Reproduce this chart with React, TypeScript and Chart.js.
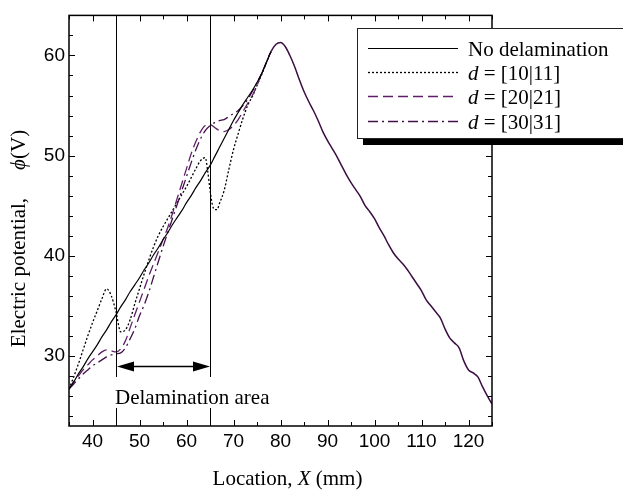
import React, { useEffect, useRef } from "react";
import { Chart, registerables } from "chart.js";

Chart.register(...registerables);

// ---------- data ----------
const xLeft = [
  35, 36, 37, 38, 39, 40, 41, 42, 43, 44, 45, 46, 47, 48, 49, 50, 51, 52, 53, 54, 55, 56, 57,
  58, 59, 60, 61, 62, 63, 64, 65, 66, 67, 68, 69, 70, 71, 72, 73, 74, 75, 76, 77, 78, 79, 80,
];
const noDelamLeft = [
  26.7, 27.4, 28.2, 28.9, 29.7, 30.4, 31.1, 31.9, 32.6, 33.4, 34.1, 34.9, 35.6, 36.4, 37.1,
  37.8, 38.6, 39.3, 40.1, 40.8, 41.6, 42.3, 43.1, 43.8, 44.5, 45.3, 46.0, 46.8, 47.5, 48.3,
  49.0, 49.9, 50.8, 51.7, 52.6, 53.5, 54.3, 55.1, 55.8, 56.5, 57.3, 58.2, 59.3, 60.4, 61.1, 61.3,
];
const d20Left = [
  26.7, 27.4, 28.0, 28.6, 29.1, 29.6, 30.0, 30.4, 30.6, 30.5, 30.4, 30.7, 31.5, 32.8, 34.1,
  35.4, 36.7, 38.0, 39.2, 40.4, 41.6, 42.8, 44.2, 45.7, 47.2, 48.7, 50.2, 51.4, 52.4, 53.0,
  53.1, 52.8, 52.5, 52.4, 52.6, 53.0, 53.6, 54.4, 55.2, 56.0, 57.0, 58.2, 59.3, 60.4, 61.1, 61.3,
];
const d30Left = [
  26.7, 27.2, 27.7, 28.2, 28.6, 29.0, 29.3, 29.6, 29.9, 30.1, 30.2, 30.3, 30.8, 31.7, 32.7,
  34.0, 35.1, 36.4, 37.9, 39.4, 40.9, 42.3, 43.7, 45.1, 46.5, 47.9, 49.3, 50.6, 51.7, 52.5,
  53.0, 53.3, 53.5, 53.6, 53.9, 54.2, 54.5, 55.0, 55.6, 56.4, 57.3, 58.2, 59.3, 60.4, 61.1, 61.3,
];
const d10X = [
  35, 36, 37, 38, 39, 40, 41, 42, 43, 44, 45, 46, 47, 48, 49, 50, 51, 52, 53, 54, 55, 56, 57,
  58, 59, 60, 61, 62, 63, 64, 64.5, 65, 65.5, 66, 66.5, 67, 68, 69, 70, 71, 72, 73, 74, 75, 76,
  77, 78, 79, 80,
];
const d10Y = [
  26.7, 27.9, 29.2, 30.6, 32.0, 33.3, 34.5, 35.7, 36.7, 36.0, 34.4, 32.4, 32.6, 33.6, 35.2,
  36.7, 38.2, 39.6, 40.9, 42.0, 42.9, 43.7, 44.5, 45.3, 46.1, 46.9, 47.8, 48.7, 49.5, 49.8,
  48.5, 46.6, 45.1, 44.6, 44.6, 45.2, 46.5, 48.6, 50.6, 52.2, 53.7, 55.0, 55.9, 57.0, 58.1,
  59.3, 60.4, 61.1, 61.3,
];
// right-hand part, common to all four cases
const xTail = [
  81, 82, 83, 84, 85, 86, 87, 88, 89, 90, 91, 92, 93, 94, 95, 96, 97, 98, 99, 100, 101, 102,
  103, 104, 105, 106, 107, 108, 109, 110, 111, 112, 113, 114, 115, 116, 117, 118, 119, 120,
  121, 122, 123, 124, 125,
];
const yTail = [
  60.9, 60.0, 58.9, 57.6, 56.4, 55.4, 54.5, 53.5, 52.4, 51.5, 50.7, 49.9, 49.0, 48.1, 47.3,
  46.6, 45.9, 45.0, 44.4, 43.7, 42.8, 42.0, 41.1, 40.3, 39.7, 39.2, 38.6, 37.9, 37.2, 36.5,
  35.6, 35.0, 34.4, 33.8, 32.7, 31.8, 31.3, 30.8, 29.5, 28.6, 28.3, 27.9, 26.9, 26.0, 25.2,
];
const xTickValues = [40, 50, 60, 70, 80, 90, 100, 110, 120];
const yTickValues = [30, 40, 50, 60];
const delamRange = [45, 65];
const seriesLabels = ["No delamination", "[10|11]", "[20|21]", "[30|31]"];

// ---------- styles ----------
const SERIF = '"Liberation Serif", "Times New Roman", serif';
const SANS = '"Liberation Sans", Arial, sans-serif';
const COLORS = ["#000000", "#000000", "#5f1f68", "#44104c"];
const DASHES: number[][] = [[], [2, 2], [10, 5], [10, 4, 2, 4]];
const TAIL_COLOR = "#3b0d42";
const TAIL_START = 78;

function pts(xs: number[], ys: number[]) {
  return xs.map((x, i) => ({ x, y: ys[i] }));
}

const decorPlugin = {
  id: "decor",
  afterDatasetsDraw(chart: any) {
    const { ctx, chartArea: a, scales } = chart;
    const xs = scales.x;
    const ys = scales.y;
    ctx.save();
    ctx.strokeStyle = "#000";
    ctx.fillStyle = "#000";
    ctx.setLineDash([]);

    const line = (x1: number, y1: number, x2: number, y2: number) => {
      ctx.beginPath();
      ctx.moveTo(x1, y1);
      ctx.lineTo(x2, y2);
      ctx.stroke();
    };

    // delamination borders
    ctx.lineWidth = 1;
    for (const v of delamRange) {
      const px = Math.round(xs.getPixelForValue(v)) + 0.5;
      line(px, a.top, px, 377);
      line(px, 408, px, a.bottom);
    }
    // double arrow
    const x1 = xs.getPixelForValue(delamRange[0]);
    const x2 = xs.getPixelForValue(delamRange[1]);
    const ay = 366.5;
    ctx.lineWidth = 1.5;
    line(x1 + 10, ay, x2 - 10, ay);
    const head = (tip: number, dir: number) => {
      ctx.beginPath();
      ctx.moveTo(tip, ay);
      ctx.lineTo(tip + dir * 17, ay - 5);
      ctx.lineTo(tip + dir * 17, ay + 5);
      ctx.closePath();
      ctx.fill();
    };
    head(x1 + 1, 1);
    head(x2, -1);

    // label
    ctx.font = `21px ${SERIF}`;
    ctx.textAlign = "left";
    ctx.textBaseline = "alphabetic";
    ctx.fillText("Delamination area", x1 - 1, 404);

    // frame
    ctx.lineWidth = 1.5;
    ctx.strokeRect(a.left, a.top, a.right - a.left, a.bottom - a.top);
    // tick marks (inward, all four sides)
    ctx.lineWidth = 1;
    for (let v = 35; v <= 125; v += 5) {
      const px = Math.round(xs.getPixelForValue(v)) + 0.5;
      const len = v % 10 === 0 ? 6 : 4;
      line(px, a.bottom, px, a.bottom - len);
      line(px, a.top, px, a.top + len);
    }
    for (let v = 24; v <= 64; v += 2) {
      const py = Math.round(ys.getPixelForValue(v)) + 0.5;
      const len = v % 10 === 0 ? 6 : 4;
      line(a.left, py, a.left + len, py);
      line(a.right, py, a.right - len, py);
    }

    // x-axis title
    ctx.font = `21px ${SERIF}`;
    const t1 = "Location, ";
    const t2 = "X";
    const t3 = " (mm)";
    const w1 = ctx.measureText(t1).width;
    ctx.font = `italic 21px ${SERIF}`;
    const w2 = ctx.measureText(t2).width;
    ctx.font = `21px ${SERIF}`;
    const w3 = ctx.measureText(t3).width;
    let sx = 287.5 - (w1 + w2 + w3) / 2;
    ctx.fillText(t1, sx, 485);
    sx += w1;
    ctx.font = `italic 21px ${SERIF}`;
    ctx.fillText(t2, sx, 485);
    sx += w2;
    ctx.font = `21px ${SERIF}`;
    ctx.fillText(t3, sx, 485);

    // y-axis title (rotated)
    ctx.save();
    ctx.translate(25, 238.5);
    ctx.rotate(-Math.PI / 2);
    ctx.font = `21px ${SERIF}`;
    const y1 = "Electric potential,";
    const y3 = "(V)";
    const wy1 = ctx.measureText(y1).width;
    const wy3 = ctx.measureText(y3).width;
    ctx.font = `italic 21px ${SERIF}`;
    const wy2 = ctx.measureText("\u03d5").width;
    const gap = 28;
    let sy = -(wy1 + gap + wy2 + wy3) / 2;
    ctx.font = `21px ${SERIF}`;
    ctx.fillText(y1, sy, 0);
    sy += wy1 + gap;
    ctx.font = `italic 21px ${SERIF}`;
    ctx.fillText("\u03d5", sy, 0);
    sy += wy2;
    ctx.font = `21px ${SERIF}`;
    ctx.fillText(y3, sy, 0);
    ctx.restore();

    // legend box with shadow
    const lx = 357;
    const ly = 28;
    const lw = 300;
    const lh = 110;
    ctx.fillStyle = "#000";
    ctx.fillRect(lx + 6, ly + 6, lw, lh + 1);
    ctx.fillStyle = "#fff";
    ctx.fillRect(lx, ly, lw, lh);
    ctx.strokeStyle = "#222";
    ctx.lineWidth = 1;
    ctx.strokeRect(lx + 0.5, ly + 0.5, lw, lh);
    for (let i = 0; i < seriesLabels.length; i++) {
      const ry = Math.round(48 + i * 24.2) + 0.5;
      ctx.strokeStyle = COLORS[i];
      ctx.lineWidth = i === 0 ? 1.2 : 1.3;
      ctx.setLineDash(DASHES[i]);
      line(368, ry, 458, ry);
      ctx.setLineDash([]);
      ctx.fillStyle = "#000";
      const by = ry + 7;
      if (i === 0) {
        ctx.font = `21px ${SERIF}`;
        ctx.fillText(seriesLabels[i], 468, by);
      } else {
        ctx.font = `italic 21px ${SERIF}`;
        ctx.fillText("d", 468, by);
        const wd = ctx.measureText("d").width;
        ctx.font = `21px ${SERIF}`;
        ctx.fillText(" = " + seriesLabels[i], 468 + wd, by);
      }
    }
    ctx.restore();
  },
};

export default function App() {
  const ref = useRef<HTMLCanvasElement>(null);
  useEffect(() => {
    const canvas = ref.current;
    if (!canvas) return;
    const tail = pts(xTail, yTail);
    const sources = [
      pts(xLeft, noDelamLeft),
      pts(d10X, d10Y),
      pts(xLeft, d20Left),
      pts(xLeft, d30Left),
    ];
    const datasets = sources.map((src, i) => ({
      label: seriesLabels[i],
      data: [...src, ...tail],
      borderColor: COLORS[i],
      borderDash: DASHES[i],
      borderWidth: i === 0 ? 1.2 : 1.3,
      pointRadius: 0,
      fill: false,
      cubicInterpolationMode: "monotone" as const,
      order: i === 0 ? 0 : 4 - i,
      segment: {
        borderColor: (c: any) =>
          c.p0.parsed.x >= TAIL_START ? (i === 0 ? TAIL_COLOR : "rgba(0,0,0,0)") : undefined,
        borderWidth: (c: any) => (c.p0.parsed.x >= TAIL_START ? 1.5 : undefined),
      },
    }));

    const chart = new Chart(canvas, {
      type: "line",
      data: { datasets },
      options: {
        animation: false,
        responsive: false,
        devicePixelRatio: 1,
        layout: { padding: { top: 3, right: 131, left: 0, bottom: 0 } },
        plugins: { legend: { display: false }, tooltip: { enabled: false } },
        scales: {
          x: {
            type: "linear",
            min: 35,
            max: 125,
            afterBuildTicks: (s: any) => {
              s.ticks = xTickValues.map((v) => ({ value: v }));
            },
            afterFit: (s: any) => {
              s.height = 71;
            },
            grid: { display: false, drawTicks: false },
            border: { display: false },
            ticks: {
              color: "#000",
              padding: 4,
              maxRotation: 0,
              font: { family: SANS, size: 19 },
              callback: (v: any) => String(v),
            },
          },
          y: {
            type: "linear",
            min: 23,
            max: 64,
            afterBuildTicks: (s: any) => {
              s.ticks = yTickValues.map((v) => ({ value: v }));
            },
            afterFit: (s: any) => {
              s.width = 69;
            },
            grid: { display: false, drawTicks: false },
            border: { display: false },
            ticks: {
              color: "#000",
              padding: 4,
              font: { family: SANS, size: 19 },
              callback: (v: any) => String(v),
            },
          },
        },
      },
      plugins: [decorPlugin],
    });
    return () => chart.destroy();
  }, []);

  return (
    <div
      style={{
        position: "fixed",
        left: 0,
        top: 0,
        width: 623,
        height: 497,
        background: "#fff",
      }}
    >
      <canvas ref={ref} width={623} height={497} style={{ width: 623, height: 497, display: "block" }} />
    </div>
  );
}
